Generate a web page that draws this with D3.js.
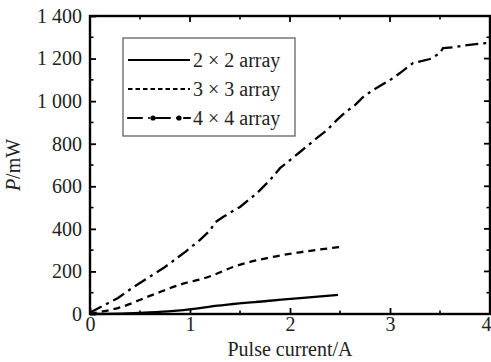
<!DOCTYPE html>
<html>
<head>
<meta charset="utf-8">
<script src="https://cdn.jsdelivr.net/npm/d3@7"></script>
<style>
  body { margin: 0; background: #fff; }
  svg text { font-family: "Liberation Serif", "Times New Roman", Times, Tinos, "Noto Serif", "DejaVu Serif", serif !important; }
</style>
</head>
<body>
<div class="chart"></div>
<script>
// data
let seriesNames = ["2 × 2 array", "3 × 3 array", "4 × 4 array"];

let current2 = [0, 0.3, 0.5, 0.78, 1.1, 1.25, 1.43, 1.77, 2.1, 2.48];
let power2 = [0, 2, 5, 12, 28, 38, 47, 61, 75, 90];

let current3 = [0, 0.05, 0.28, 0.62, 0.95, 1.13, 1.23, 1.43, 1.77, 2.1, 2.5];
let power3 = [0, 5, 28, 89, 145, 166, 182, 221, 263, 290, 315];

let current4 = [0, 0.02, 0.28, 0.42, 0.75, 0.95, 1.1, 1.2, 1.25, 1.33, 1.5, 1.67, 1.8, 1.9, 2.0, 2.1, 2.27, 2.37, 2.47, 2.57, 2.63, 2.73, 2.83, 3.0, 3.1, 3.23, 3.4, 3.5, 3.53, 3.65, 3.77, 3.97, 4.0];
let power4 = [8, 12, 75, 122, 221, 291, 348, 392, 430, 456, 503, 568, 629, 685, 723, 761, 827, 864, 912, 955, 972, 1019, 1052, 1099, 1132, 1179, 1198, 1226, 1249, 1254, 1263, 1273, 1275];

let xTicks = [0, 1, 2, 3, 4];
let yTicks = [0, 200, 400, 600, 800, 1000, 1200, 1400];

let margin = {top: 16, right: 1, bottom: 48, left: 90};
let width = 491 - margin.left - margin.right;
let height = 362 - margin.top - margin.bottom;
let fs = 20;

let svg = d3.select(".chart").append("svg")
    .attr("width", 491)
    .attr("height", 362)
  .append("g")
    .attr("transform", "translate(" + margin.left + "," + margin.top + ")");

let x = d3.scaleLinear().domain([0, 4]).range([0, 400]);
let y = d3.scaleLinear().domain([0, 1400]).range([height, 0]);

let fmt = d3.formatLocale({decimal: ".", thousands: " ", grouping: [3], currency: ["", ""]}).format(",d");

// minor ticks
let xMinor = d3.range(0, 4.01, 0.5).filter(d => xTicks.indexOf(d) < 0);
let yMinor = d3.range(100, 1400, 200);

let smooth = d3.line()
    .curve(d3.curveMonotoneX)
    .x(d => x(d[0]))
    .y(d => y(d[1]));
let rough = d3.line()
    .x(d => x(d[0]))
    .y(d => y(d[1]));

let series = [
  {pts: d3.zip(current2, power2), dash: null, line: smooth},
  {pts: d3.zip(current3, power3), dash: "7,5", line: smooth},
  {pts: d3.zip(current4, power4), dash: "13,5,3,5", line: rough}
];

svg.selectAll(".series")
  .data(series)
  .enter().append("path")
    .attr("class", "series")
    .attr("d", d => d.line(d.pts))
    .attr("fill", "none")
    .attr("stroke", "#000")
    .attr("stroke-width", 2.3)
    .attr("stroke-dasharray", d => d.dash);

// axes with inward ticks
let xAxis = d3.axisBottom(x).tickValues(xTicks).tickSize(-6).tickPadding(3).tickFormat(d3.format("d"));
let yAxis = d3.axisLeft(y).tickValues(yTicks).tickSize(-6).tickPadding(8).tickFormat(fmt);

let gx = svg.append("g")
    .attr("transform", "translate(0," + height + ")")
    .call(xAxis);
let gy = svg.append("g").call(yAxis);

[gx, gy].forEach(g => {
  g.selectAll("text").attr("font-size", fs).attr("fill", "#222");
  g.selectAll("line").attr("stroke-width", 1.8);
  g.select(".domain").remove();
});
// last x label sits against the page edge
gx.selectAll("text").filter(d => d == 4).attr("text-anchor", "end").attr("x", 1);

// minor ticks bottom/top
xMinor.forEach(v => {
  svg.append("line").attr("x1", x(v)).attr("x2", x(v)).attr("y1", height).attr("y2", height - 3.5).attr("stroke", "#000").attr("stroke-width", 1.6);
  svg.append("line").attr("x1", x(v)).attr("x2", x(v)).attr("y1", 0).attr("y2", 3.5).attr("stroke", "#000").attr("stroke-width", 1.6);
});
xTicks.forEach(v => {
  svg.append("line").attr("x1", x(v)).attr("x2", x(v)).attr("y1", 0).attr("y2", 6).attr("stroke", "#000").attr("stroke-width", 1.8);
});
yMinor.forEach(v => {
  svg.append("line").attr("x1", 0).attr("x2", 3.5).attr("y1", y(v)).attr("y2", y(v)).attr("stroke", "#000").attr("stroke-width", 1.6);
  svg.append("line").attr("x1", 400).attr("x2", 396.5).attr("y1", y(v)).attr("y2", y(v)).attr("stroke", "#000").attr("stroke-width", 1.6);
});
yTicks.forEach(v => {
  svg.append("line").attr("x1", 400).attr("x2", 394).attr("y1", y(v)).attr("y2", y(v)).attr("stroke", "#000").attr("stroke-width", 1.8);
});

// frame
svg.append("rect")
    .attr("x", 0).attr("y", 0)
    .attr("width", 400).attr("height", height)
    .attr("fill", "none")
    .attr("stroke", "#000")
    .attr("stroke-width", 2.4);

// legend
let legend = svg.append("g").attr("transform", "translate(33,22)");
legend.append("rect")
    .attr("width", 172).attr("height", 98)
    .attr("fill", "#fff")
    .attr("stroke", "#555")
    .attr("stroke-width", 1.2);

let rows = legend.selectAll(".row")
  .data(series)
  .enter().append("g")
    .attr("class", "row")
    .attr("transform", (d, i) => "translate(0," + (22 + i * 29) + ")");

rows.append("line")
    .attr("x1", 5).attr("x2", 67)
    .attr("stroke", "#000")
    .attr("stroke-width", 2.2)
    .attr("stroke-dasharray", (d, i) => i == 1 ? "4.5,3" : (i == 2 ? "14,7,0,7" : null))
    .attr("stroke-linecap", (d, i) => i == 2 ? "round" : "butt");

rows.filter((d, i) => i == 2).selectAll("circle")
  .data([30, 56])
  .enter().append("circle")
    .attr("cx", d => d).attr("cy", 0).attr("r", 2.6).attr("fill", "#000");

rows.append("text")
    .attr("x", 70).attr("y", 7)
    .attr("font-size", fs)
    .attr("fill", "#222")
    .text((d, i) => seriesNames[i]);

// axis titles
svg.append("text")
    .attr("x", 200).attr("y", height + 42)
    .attr("text-anchor", "middle")
    .attr("font-size", fs)
    .attr("fill", "#222")
    .text("Pulse current/A");

let yl = svg.append("text")
    .attr("transform", "translate(-70," + (height / 2) + ") rotate(-90)")
    .attr("text-anchor", "middle")
    .attr("font-size", fs)
    .attr("fill", "#222");
yl.append("tspan").attr("font-style", "italic").text("P");
yl.append("tspan").text("/mW");
</script>
</body>
</html>
